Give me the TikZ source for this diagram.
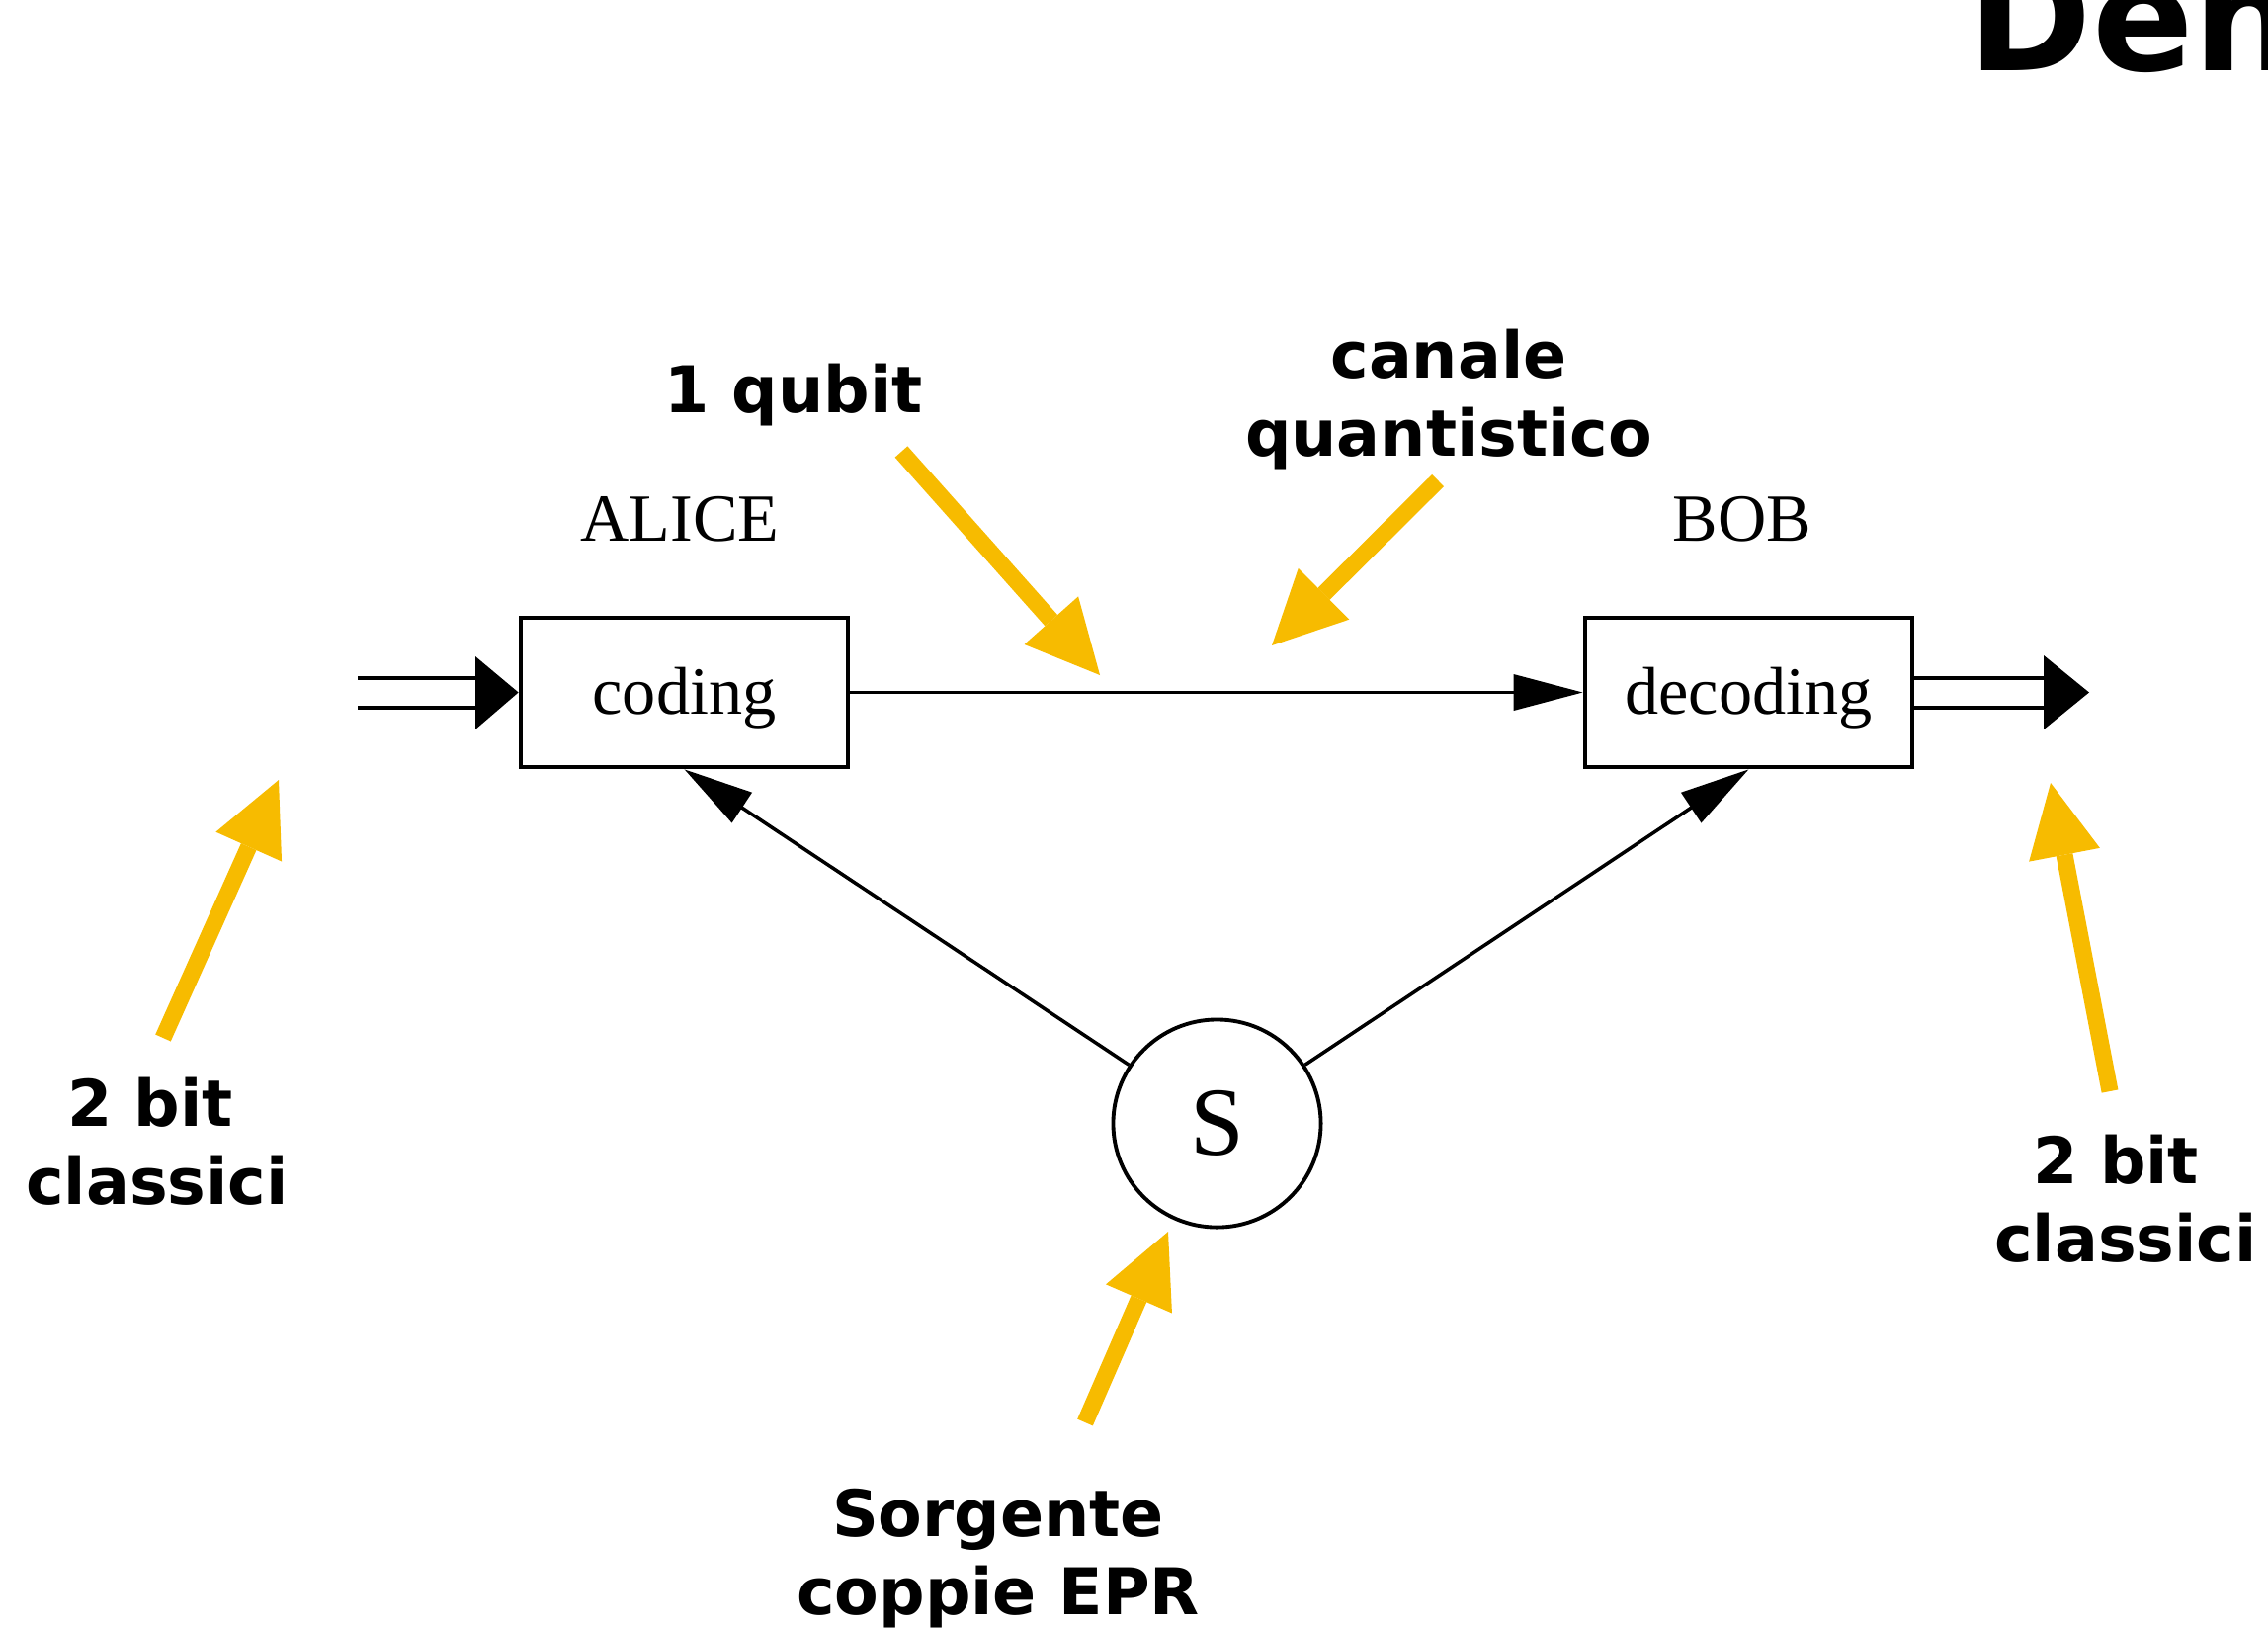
\documentclass[tikz,border=0pt]{standalone}
\usepackage{fontspec}
\setmainfont{Liberation Serif}
\newfontfamily\labfont{DejaVu Sans}
\usetikzlibrary{arrows.meta}
\definecolor{gold}{RGB}{247,187,0}
\begin{document}
\begin{tikzpicture}[x=0.01cm,y=-0.01cm,
  box/.style={draw,line width=1.3pt,minimum width=3.31cm,minimum height=1.51cm,inner sep=0pt,
    font=\fontsize{19.4}{23}\selectfont,text height=12.5pt,text depth=0pt},
  conn/.style={line width=1pt,-{Triangle[length=0.7cm,width=0.36cm]}},
  dbl/.style={line width=1.2pt},
  ann/.style={color=gold,line width=0.17cm,-{Triangle[length=0.74cm,width=0.73cm,line width=0pt]}},
  lab/.style={font=\labfont\bfseries\fontsize{18.5}{22.2}\selectfont,anchor=base,inner sep=0pt},
  who/.style={font=\fontsize{19.4}{23}\selectfont,anchor=base,inner sep=0pt}]
\fill[white] (0,0) rectangle (2295,1647);
\useasboundingbox (0,0) rectangle (2295,1647);
\begin{scope}
\clip (0,0) rectangle (2295,1647);
\node[anchor=base west,inner sep=0pt,font=\labfont\bfseries\fontsize{43}{50}\selectfont] (title) at (1991,71) {Dense coding};
\end{scope}

% boxes and source
\node[box] (coding) at (692.5,700.5) {coding};
\node[box] (decoding) at (1769.5,700.5) {decoding};
\node[circle,draw,line width=1.1pt,minimum size=2.1cm,inner sep=0pt,font=\fontsize{28}{30}\selectfont] (S) at (1231.5,1136.5) {S};

\node[who] (alice) at (688,547) {ALICE};
\node[who] (bob) at (1763,547) {BOB};

% connectors
\draw[conn] (coding.east) -- (decoding.west);
\draw[conn] (S) -- (coding.south);
\draw[conn] (S) -- (decoding.south);

% classical input (double line)
\coordinate (inT) at (362,686);
\coordinate (inB) at (362,716);
\coordinate (inHT) at (481,664);
\coordinate (inHB) at (481,738);
\draw[dbl] (inT) -- (inT -| inHT);
\draw[dbl] (inB) -- (inB -| inHT);
\fill (inHT) -- (coding.west) -- (inHB) -- cycle;

% classical output (double line)
\coordinate (oT) at (2068,686);
\coordinate (oB) at (2068,716);
\coordinate (oHT) at (2068,663);
\coordinate (oHB) at (2068,738);
\coordinate (oTip) at (2114,700.5);
\draw[dbl] (oT -| decoding.east) -- (oT);
\draw[dbl] (oB -| decoding.east) -- (oB);
\fill (oHT) -- (oTip) -- (oHB) -- cycle;

% labels
\node[lab] (qubit) at (803,417) {1 qubit};
\node[lab] (can1) at (1466,382) {canale};
\node[lab] (can2) at (1466,461) {quantistico};
\node[lab] (bl1) at (152,1139) {2 bit};
\node[lab] (bl2) at (159,1218) {classici};
\node[lab] (br1) at (2141,1197) {2 bit};
\node[lab] (br2) at (2151,1276) {classici};
\node[lab] (sg1) at (1010,1554) {Sorgente};
\node[lab] (sg2) at (1010,1633) {coppie EPR};

% annotation arrows
\coordinate (a1s) at (912,457);   \coordinate (a1e) at (1113,683);
\coordinate (a2s) at (1455,486);  \coordinate (a2e) at (1287,653);
\coordinate (a3s) at (165,1050);  \coordinate (a3e) at (282,789);
\coordinate (a4s) at (2135,1104); \coordinate (a4e) at (2075,792);
\coordinate (a5s) at (1098,1439); \coordinate (a5e) at (1182,1246);
\draw[ann] (a1s) -- (a1e);
\draw[ann] (a2s) -- (a2e);
\draw[ann] (a3s) -- (a3e);
\draw[ann] (a4s) -- (a4e);
\draw[ann] (a5s) -- (a5e);
\end{tikzpicture}
\end{document}
